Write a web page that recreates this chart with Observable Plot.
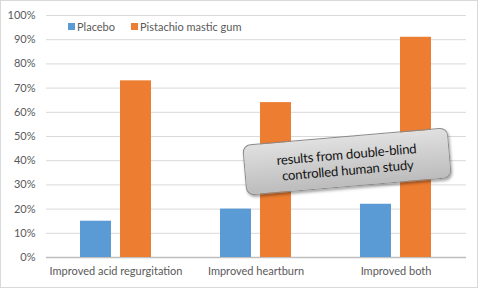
<!DOCTYPE html>
<html>
<head>
<meta charset="utf-8">
<script src="https://cdn.jsdelivr.net/npm/d3@7"></script>
<script src="https://cdn.jsdelivr.net/npm/@observablehq/plot@0.6"></script>
<style>
  html, body { margin: 0; padding: 0; background: #fff; }
  #wrap { position: relative; width: 480px; height: 289px; font-family: Lato, "Open Sans", sans-serif; }
  #wrap svg { position: absolute; left: 0; top: 0; }
  #frame { position: absolute; left: 0; top: 0; width: 476px; height: 286px; border: 1px solid #d9d9d9; pointer-events: none; }
  #legend { position: absolute; left: 68px; top: 20px; display: flex; gap: 0; font-size: 11px; color: #595959; }
  .item { display: flex; align-items: center; margin-right: 16px; }
  .sw { width: 7px; height: 7px; margin-right: 2px; }
  #callout { position: absolute; left: 244px; top: 136px; width: 204px; height: 49px; border-radius: 8px;
    background: linear-gradient(#e0e0e0, #bcbcbc); border: 1px solid #8a8a8a; box-shadow: 1px 2px 3px rgba(0,0,0,0.35);
    transform: rotate(-4.9deg); display: flex; align-items: center; justify-content: center; text-align: center;
    font-size: 13.2px; letter-spacing: -0.2px; line-height: 16px; color: #141414; }
</style>
</head>
<body>
<div id="wrap"></div>
<script>
const categories = ["Improved acid regurgitation", "Improved heartburn", "Improved both"];
const series = ["Placebo", "Pistachio mastic gum"];
const placebo = [0.15, 0.20, 0.22];
const pistachio = [0.73, 0.64, 0.91];
const colors = ["#5b9bd5", "#ed7d31"];
const yTicks = [0, 0.1, 0.2, 0.3, 0.4, 0.5, 0.6, 0.7, 0.8, 0.9, 1.0];
const calloutText = ["results from double-blind", "controlled human study"];

const data = [];
categories.forEach((c, i) => {
  data.push({category: c, series: series[0], value: placebo[i]});
  data.push({category: c, series: series[1], value: pistachio[i]});
});

const common = {
  width: 480,
  height: 289,
  marginLeft: 46,
  marginRight: 14,
  marginTop: 15,
  marginBottom: 32,
  style: {fontFamily: "Lato, 'Open Sans', sans-serif", fontSize: "11px", color: "#595959", background: "transparent"},
  y: {domain: [0, 1], label: null, axis: null}
};

// background: y axis + gridlines spanning the full plot width
const back = Plot.plot({
  ...common,
  marks: [
    Plot.ruleY(yTicks.slice(1), {stroke: "#d9d9d9", strokeWidth: 1}),
    Plot.ruleY([0], {stroke: "#bfbfbf", strokeWidth: 1.5}),
    Plot.axisY({ticks: yTicks, tickFormat: d3.format(".0%"), tickSize: 0, tickPadding: 11, label: null, fill: "#595959"})
  ]
});

// foreground: grouped bars
const front = Plot.plot({
  ...common,
  fx: {domain: categories, paddingInner: 0.49, paddingOuter: 0.245, label: null, axis: "bottom", tickSize: 0, tickPadding: 10},
  x: {domain: series, paddingInner: 0.225, paddingOuter: 0, axis: null},
  color: {domain: series, range: colors},
  marks: [
    Plot.barY(data, {fx: "category", x: "series", y: "value", fill: "series"})
  ]
});

const wrap = document.getElementById("wrap");
wrap.appendChild(back);
wrap.appendChild(front);

const frame = document.createElement("div");
frame.id = "frame";
wrap.appendChild(frame);

const legend = document.createElement("div");
legend.id = "legend";
series.forEach((s, i) => {
  const item = document.createElement("div");
  item.className = "item";
  const sw = document.createElement("div");
  sw.className = "sw";
  sw.style.background = colors[i];
  const t = document.createElement("span");
  t.textContent = s;
  item.appendChild(sw);
  item.appendChild(t);
  legend.appendChild(item);
});
wrap.appendChild(legend);

const callout = document.createElement("div");
callout.id = "callout";
callout.innerHTML = calloutText.join("<br>");
wrap.appendChild(callout);
</script>
</body>
</html>
